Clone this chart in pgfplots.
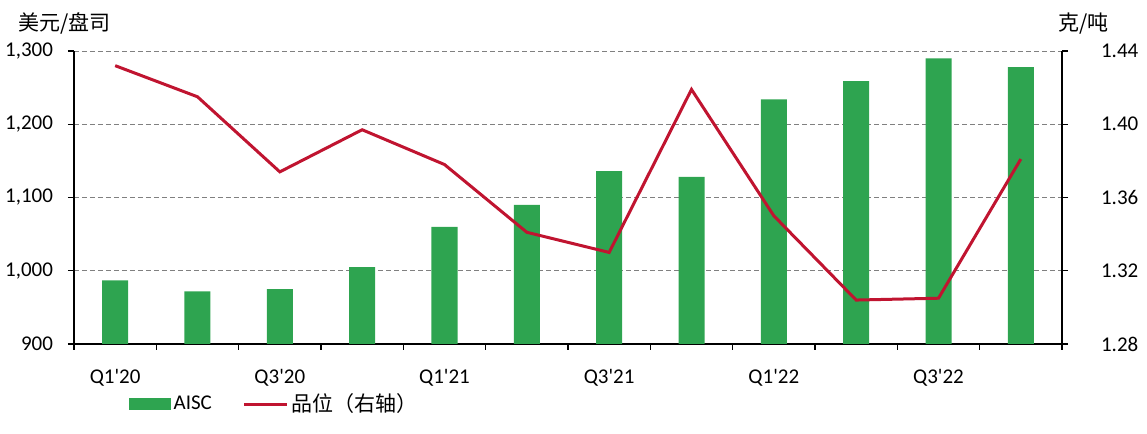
\documentclass[border=0pt]{standalone}
\usepackage{fontspec}
\setmainfont{Carlito}
\newfontfamily\cjk{Noto Sans CJK SC}
\usepackage{pgfplots}
\pgfplotsset{compat=1.18}
\definecolor{barg}{RGB}{46,164,80}
\definecolor{liner}{RGB}{192,20,48}

\begin{document}
\begin{tikzpicture}[font=\fontsize{10.5}{12}\selectfont]
\pgfplotsset{
  common/.style={
    width=494pt, height=146.5pt, scale only axis,
    xmin=-0.5, xmax=11.5,
    tick align=outside, major tick length=3pt,
    every tick/.style={black, line width=0.6pt},
    axis line style={black, line width=0.75pt},
    /pgf/number format/assume math mode=true,
    clip=false,
  }
}
\begin{axis}[common, name=ax1,
  ymin=900, ymax=1300, ytick={900,1000,...,1300},
  yticklabel style={/pgf/number format/1000 sep={,}, xshift=-4pt},
  axis x line*=bottom, axis y line*=left,
  xtick={-0.5,0.5,...,11.5},
  xticklabels={Q1\textquotesingle20,,Q3\textquotesingle20,,Q1\textquotesingle21,,Q3\textquotesingle21,,Q1\textquotesingle22,,Q3\textquotesingle22,,},
  xticklabel style={xshift=20.58pt, yshift=-6pt},
  ymajorgrids, grid style={black!50, line width=0.5pt, dash pattern=on 2.5pt off 1.5pt},
]
\addplot[ybar, bar width=13pt, fill=barg, draw=none, bar shift=0pt] coordinates {
(0,987) (1,972) (2,975) (3,1005) (4,1060) (5,1090)
(6,1136) (7,1128) (8,1234) (9,1259) (10,1290) (11,1278)};
\end{axis}
\begin{axis}[common,
  ymin=1.28, ymax=1.44, ytick={1.28,1.32,...,1.44},
  /pgf/number format/fixed, /pgf/number format/fixed zerofill,
  /pgf/number format/precision=2,
  yticklabel style={xshift=13pt},
  axis y line*=right, axis x line=none,
  legend style={draw=none, fill=none, at={(rel axis cs:0.0490,-0.205)}, anchor=west,
    legend columns=2, /tikz/every even column/.append style={column sep=14pt},
    nodes={inner sep=1.5pt}},
]
\addlegendimage{legend image code/.code={\fill[barg] (0pt,-2.75pt) rectangle (20.5pt,2.75pt);}}
\addlegendentry{AISC}
\addplot[liner, line width=1.5pt,
  legend image code/.code={\draw[liner, line width=1.5pt] (0pt,0pt) -- (21.5pt,0pt);}] coordinates {
(0,1.432) (1,1.415) (2,1.374) (3,1.397) (4,1.378) (5,1.341)
(6,1.330) (7,1.419) (8,1.350) (9,1.304) (10,1.305) (11,1.381)};
\addlegendentry{\cjk 品位（右轴）}
\end{axis}
\node[anchor=west, font=\cjk\fontsize{10.5}{12}\selectfont] at ([xshift=-31.5pt,yshift=14pt]ax1.north west) {美元/盘司};
\node[anchor=west, font=\cjk\fontsize{10.5}{12}\selectfont] at ([xshift=-5.5pt,yshift=13.5pt]ax1.north east) {克/吨};
\pgfresetboundingbox
\path ([xshift=-37pt,yshift=-45pt]ax1.south west) rectangle ++(573.5pt,217pt);
\end{tikzpicture}
\end{document}
